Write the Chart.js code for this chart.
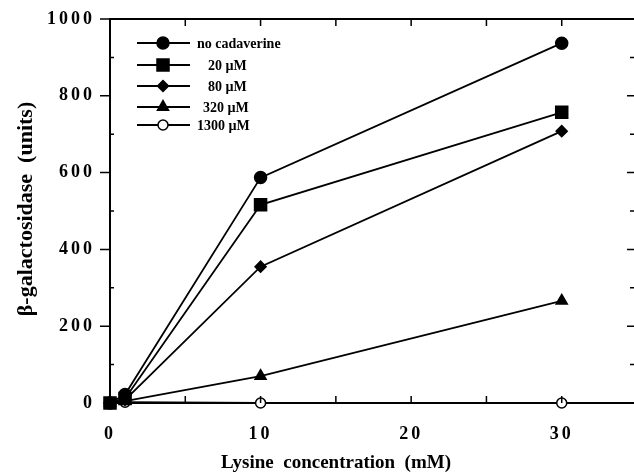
<!DOCTYPE html>
<html>
<head>
<meta charset="utf-8">
<script src="https://cdn.jsdelivr.net/npm/chart.js@4"></script>
<style>
  html, body { margin: 0; background: #fff; overflow: hidden; }
  canvas { display: block; }
</style>
</head>
<body>
<canvas id="c" width="634" height="475"></canvas>
<script>
// lysine concentration (mM) and beta-galactosidase units per cadaverine level
const lysine = [0, 1, 10, 30]
const noCadaverine = [0, 22, 587, 937]
const cad20 = [0, 12, 516, 757]
const cad80 = [0, 8, 355, 708]
const cad320 = [0, 5, 70, 266]
const cad1300 = [0, 2, 0, 0]
const seriesLabels = ["no cadaverine", "20 µM", "80 µM", "320 µM", "1300 µM"]
const xTicks = [0, 10, 20, 30]
const yTicks = [0, 200, 400, 600, 800, 1000]

const serif = "'Liberation Serif', 'Times New Roman', serif"

function points(ys) {
  return lysine.map((x, i) => ({ x: x, y: ys[i] }))
}

function series(label, ys, style, radius, fill) {
  return {
    label: label,
    data: points(ys),
    showLine: true,
    borderColor: "#000",
    borderWidth: 1.8,
    pointStyle: style,
    pointRadius: radius,
    pointBorderWidth: 1.5,
    pointBorderColor: "#000",
    pointBackgroundColor: fill,
    clip: false
  }
}

// inward/outward tick marks, top frame line, legend and axis titles
const decor = {
  id: "decor",
  beforeDraw(chart) {
    chart.ctx.letterSpacing = "3px"
  },
  afterDraw(chart) {
    const ctx = chart.ctx
    const x = chart.scales.x
    const y = chart.scales.y
    const a = chart.chartArea
    ctx.save()
    ctx.letterSpacing = "0px"
    ctx.strokeStyle = "#000"
    ctx.lineWidth = 2
    ctx.beginPath()
    ctx.moveTo(a.left - 1, a.top)
    ctx.lineTo(a.right, a.top)
    ctx.stroke()

    ctx.lineWidth = 1.5
    ctx.beginPath()
    for (let v = 5; v <= 30; v += 5) {
      const px = x.getPixelForValue(v)
      ctx.moveTo(px, a.bottom); ctx.lineTo(px, a.bottom - 7)
      ctx.moveTo(px, a.top); ctx.lineTo(px, a.top + 7)
    }
    for (let v = 100; v <= 1000; v += 100) {
      const py = y.getPixelForValue(v)
      const major = v % 200 === 0
      if (major) {
        ctx.moveTo(a.left - 10, py); ctx.lineTo(a.left, py)
        ctx.moveTo(a.right - 7, py); ctx.lineTo(a.right, py)
      } else {
        ctx.moveTo(a.left, py); ctx.lineTo(a.left + 4, py)
        ctx.moveTo(a.right - 4, py); ctx.lineTo(a.right, py)
      }
    }
    ctx.stroke()

    // legend
    const rows = [43, 65, 86, 107, 125]
    const textX = [197, 208, 208, 203, 197]
    ctx.font = "bold 14px " + serif
    ctx.fillStyle = "#000"
    ctx.textBaseline = "middle"
    ctx.textAlign = "left"
    chart.data.datasets.forEach((ds, i) => {
      const ry = rows[i]
      ctx.lineWidth = 1.8
      ctx.beginPath()
      ctx.moveTo(137, ry); ctx.lineTo(190, ry)
      ctx.stroke()
      ctx.lineWidth = ds.pointBorderWidth
      ctx.fillStyle = ds.pointBackgroundColor
      Chart.helpers.drawPoint(ctx, {
        pointStyle: ds.pointStyle, radius: ds.pointRadius, borderWidth: ds.pointBorderWidth
      }, 163, ry)
      ctx.fillStyle = "#000"
      ctx.fillText(ds.label, textX[i], ry + 1)
    })

    // axis titles
    ctx.font = "bold 19px " + serif
    ctx.textAlign = "center"
    ctx.fillText("Lysine  concentration  (mM)", 336, 463)
    ctx.font = "bold 22px " + serif
    ctx.translate(26, 209)
    ctx.rotate(-Math.PI / 2)
    ctx.fillText("β-galactosidase  (units)", 0, 0)
    ctx.restore()
  }
}

new Chart(document.getElementById("c"), {
  type: "scatter",
  data: {
    datasets: [
      series(seriesLabels[0], noCadaverine, "circle", 6, "#000"),
      series(seriesLabels[1], cad20, "rect", 8.5, "#000"),
      series(seriesLabels[2], cad80, "rectRot", 5.5, "#000"),
      series(seriesLabels[3], cad320, "triangle", 6.4, "#000"),
      series(seriesLabels[4], cad1300, "circle", 5, "#fff")
    ]
  },
  options: {
    responsive: false,
    animation: false,
    devicePixelRatio: 1,
    layout: { autoPadding: false, padding: { top: 19, right: 0, left: 0, bottom: 0 } },
    plugins: { legend: { display: false }, tooltip: { enabled: false } },
    scales: {
      x: {
        type: "linear",
        min: 0,
        max: 34.8,
        afterBuildTicks: s => { s.ticks = xTicks.map(v => ({ value: v })) },
        afterFit: s => { s.height = 72; s.paddingLeft = 0; s.paddingRight = 0 },
        grid: { display: true, drawOnChartArea: false, drawTicks: false },
        border: { display: true, color: "#000", width: 2 },
        ticks: { color: "#000", padding: 21, callback: v => String(v), font: { family: serif, size: 18, weight: "bold" } }
      },
      y: {
        min: 0,
        max: 1000,
        afterBuildTicks: s => { s.ticks = yTicks.map(v => ({ value: v })) },
        afterFit: s => { s.width = 110; s.paddingTop = 0; s.paddingBottom = 0 },
        grid: { display: true, drawOnChartArea: false, drawTicks: false },
        border: { display: true, color: "#000", width: 2 },
        ticks: { color: "#000", padding: 15, callback: v => String(v), font: { family: serif, size: 18, weight: "bold" } }
      }
    }
  },
  plugins: [decor]
})
</script>
</body>
</html>
